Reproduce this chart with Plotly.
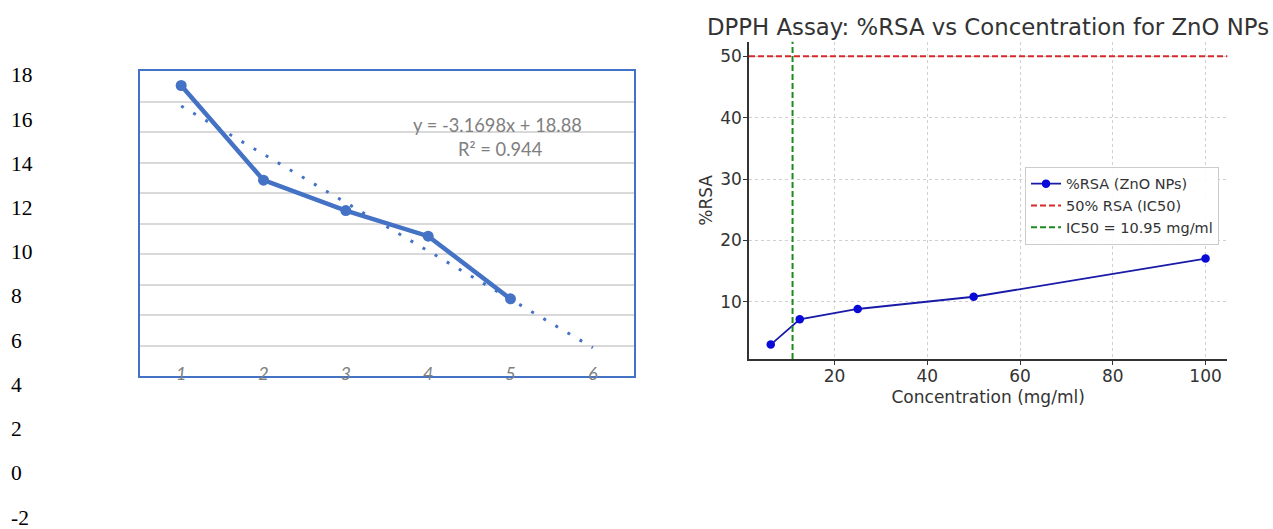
import plotly.graph_objects as go

# ---------------- data ----------------
# Left (Excel-style) chart
excel_x = [1, 2, 3, 4, 5]
excel_y = [17.05, 10.84, 8.85, 7.17, 3.06]
excel_xticks = [1, 2, 3, 4, 5, 6]
trend_slope = -3.1698
trend_intercept = 18.88
trend_x = [1, 6]
trend_label = "y = -3.1698x + 18.88"
r2_label = "R² = 0.944"
outer_ticks = [18, 16, 14, 12, 10, 8, 6, 4, 2, 0, -2]
outer_tick_text = ["18", "16", "14", "12", "10", "8", "6", "4", "2", "0", "-2"]

# Right (DPPH assay) chart
conc = [6.25, 12.5, 25, 50, 100]
rsa = [3.06, 7.17, 8.85, 10.84, 17.05]
ic50_rsa = 50
ic50_conc = 10.95
right_xticks = [20, 40, 60, 80, 100]
right_yticks = [10, 20, 30, 40, 50]

W, H = 1273, 529


def px(x):
    return x / W


def py(y):
    return 1 - y / H


EXCEL_BLUE = "#4472C4"
DARK = "#333333"

trend_y = [trend_slope * x + trend_intercept for x in trend_x]

fig = go.Figure()

# Excel trendline
fig.add_trace(go.Scatter(
    x=trend_x, y=trend_y, mode="lines",
    line=dict(color=EXCEL_BLUE, width=3, dash="3px,11px"),
    xaxis="x", yaxis="y", showlegend=False, hoverinfo="skip"))
# Excel series
fig.add_trace(go.Scatter(
    x=excel_x, y=excel_y, mode="lines+markers",
    line=dict(color=EXCEL_BLUE, width=4.5),
    marker=dict(color=EXCEL_BLUE, size=11),
    xaxis="x", yaxis="y", showlegend=False))

# stray axis labels on far left
fig.add_trace(go.Scatter(x=[], y=[], xaxis="x3", yaxis="y3",
                         showlegend=False, hoverinfo="skip"))

# Right chart series
fig.add_trace(go.Scatter(
    x=conc, y=rsa, mode="lines+markers", name="%RSA (ZnO NPs)",
    line=dict(color="#1a1aa8", width=1.8),
    marker=dict(color="#0a0ad8", size=8.5),
    xaxis="x2", yaxis="y2"))
fig.add_trace(go.Scatter(
    x=[None], y=[None], mode="lines", name="50% RSA (IC50)",
    line=dict(color="#d62a2a", width=2, dash="6px,3px"),
    xaxis="x2", yaxis="y2"))
fig.add_trace(go.Scatter(
    x=[None], y=[None], mode="lines", name="IC50 = 10.95 mg/ml",
    line=dict(color="#1e8a1e", width=2, dash="6px,3px"),
    xaxis="x2", yaxis="y2"))

fig.add_shape(type="line", xref="x2 domain", yref="y2",
              x0=0, x1=1, y0=ic50_rsa, y1=ic50_rsa,
              line=dict(color="#d62a2a", width=2, dash="6px,3px"))
fig.add_shape(type="line", xref="x2", yref="y2 domain",
              x0=ic50_conc, x1=ic50_conc, y0=0, y1=1,
              line=dict(color="#1e8a1e", width=2, dash="6px,3px"))

right_font = dict(family="DejaVu Sans", size=17, color=DARK)

fig.update_layout(
    width=W, height=H,
    margin=dict(l=0, r=0, t=0, b=0),
    paper_bgcolor="white", plot_bgcolor="white",
    showlegend=True,
    legend=dict(x=px(1025), y=py(166.7), xanchor="left", yanchor="top",
                bordercolor="#cccccc", borderwidth=1,
                bgcolor="rgba(255,255,255,0.9)",
                font=dict(family="DejaVu Sans", size=14.5, color=DARK),
                tracegroupgap=0, itemwidth=30),
    xaxis=dict(domain=[px(140), px(634)], range=[0.5, 6.5],
               tickmode="array", tickvals=excel_xticks,
               tickfont=dict(family="Lato", size=18, color="#808080", style="italic"),
               ticks="", showline=True, mirror=True, linecolor=EXCEL_BLUE,
               linewidth=1.5, showgrid=False, zeroline=False,
               ticklabelstandoff=-19, anchor="y", automargin=False),
    yaxis=dict(domain=[py(376), py(71)], range=[-2, 18], dtick=2, tick0=0,
               showticklabels=False, ticks="", showgrid=True,
               gridcolor="#D9D9D9", gridwidth=1.5, showline=True, mirror=True,
               linecolor=EXCEL_BLUE, linewidth=1.5, zeroline=False,
               anchor="x", automargin=False),
    xaxis3=dict(domain=[px(8), px(60)], visible=False, anchor="y3"),
    yaxis3=dict(domain=[py(517), py(74.8)], range=[-2, 18],
                tickmode="array", tickvals=outer_ticks, ticktext=outer_tick_text,
                ticklabelposition="inside", ticklabeloverflow="allow",
                ticks="", showline=False,
                showgrid=False, zeroline=False,
                tickfont=dict(family="Liberation Serif", size=21.5, color="black"),
                anchor="x3", automargin=False),
    xaxis2=dict(domain=[px(749), px(1227.3)], range=[1.56, 104.69],
                tickmode="array", tickvals=right_xticks,
                ticks="outside", ticklen=4, tickcolor=DARK, tickwidth=1.2,
                showline=True, linecolor=DARK, linewidth=1.5,
                showgrid=True, gridcolor="#d0d0d0", griddash="dot", gridwidth=1,
                zeroline=False, tickfont=right_font, ticklabelstandoff=-3,
                title=dict(text="Concentration (mg/ml)", font=right_font, standoff=6),
                anchor="y2", automargin=False),
    yaxis2=dict(domain=[py(359), py(41.7)], range=[0.71, 52.35],
                tickmode="array", tickvals=right_yticks,
                ticks="outside", ticklen=4, tickcolor=DARK, tickwidth=1.2,
                showline=True, linecolor=DARK, linewidth=1.5,
                showgrid=True, gridcolor="#d0d0d0", griddash="dot", gridwidth=1,
                zeroline=False, tickfont=right_font, ticklabelstandoff=-2,
                title=dict(text="%RSA", font=right_font, standoff=3),
                anchor="x2", automargin=False),
    annotations=[
        dict(text="DPPH Assay: %RSA vs Concentration for ZnO NPs",
             xref="paper", yref="paper", x=px(987.5), y=py(26.7),
             xanchor="center", yanchor="middle", showarrow=False,
             font=dict(family="DejaVu Sans", size=22.8, color=DARK)),
        dict(text=trend_label, xref="paper", yref="paper",
             x=px(497.5), y=py(125), xanchor="center", yanchor="middle",
             showarrow=False, font=dict(family="Lato", size=18.3, color="#7f7f7f")),
        dict(text=r2_label, xref="paper", yref="paper",
             x=px(500), y=py(149.3), xanchor="center", yanchor="middle",
             showarrow=False, font=dict(family="Lato", size=18.3, color="#7f7f7f")),
    ],
)

fig.write_html(
    "out.html",
    config={"displayModeBar": False},
    post_script="document.body.style.margin='0';document.body.style.overflow='hidden';",
)
